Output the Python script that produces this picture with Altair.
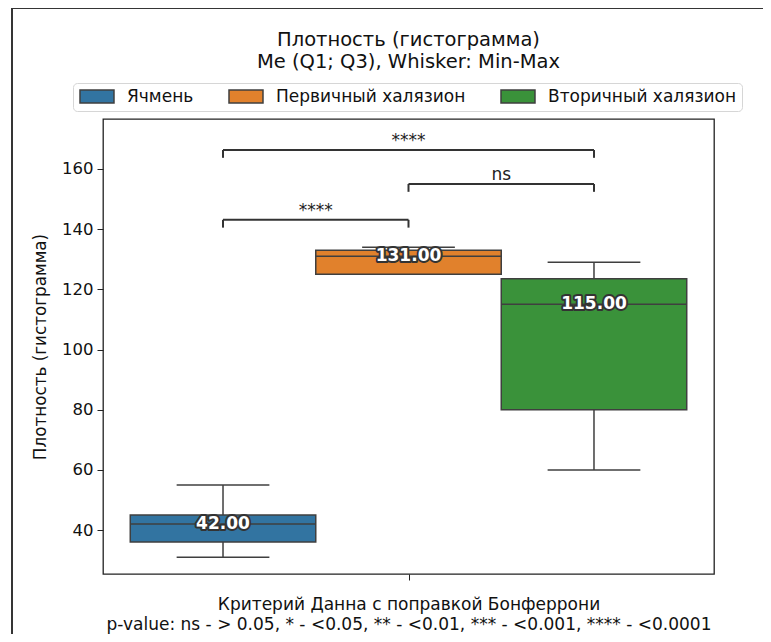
import altair as alt
import pandas as pd

# ---- data ----
groups = ["Ячмень", "Первичный халязион", "Вторичный халязион"]
colors = ["#3274a1", "#e1812c", "#3a923a"]
mins = [31, 125, 60]
q1s = [36, 125, 80]
medians = [42, 131, 115]
q3s = [45, 133, 123.5]
maxs = [55, 134, 129]

pair_from = [0, 1, 0]
pair_to = [1, 2, 2]
pair_y = [143.1, 155.0, 166.3]
pair_text = ["****", "ns", "****"]

title_lines = ["Плотность (гистограмма)", "Me (Q1; Q3), Whisker: Min-Max"]
y_title = "Плотность (гистограмма)"
x_title = ["Критерий Данна с поправкой Бонферрони",
           "p-value: ns - > 0.05, * - <0.05, ** - <0.01, *** - <0.001, **** - <0.0001"]
y_ticks = [40, 60, 80, 100, 120, 140, 160]

# ---- tables ----
half = 0.5
cap = 0.25
drop = 2.6
box = pd.DataFrame({
    "group": groups,
    "pos": [i - 1 for i in range(len(groups))],
    "mn": mins, "q1": q1s, "med": medians, "q3": q3s, "mx": maxs,
})
box["left"] = box["pos"] - half
box["right"] = box["pos"] + half
box["cl"] = box["pos"] - cap
box["cr"] = box["pos"] + cap
box["label"] = box["med"].map(lambda v: f"{v:.2f}")

br = pd.DataFrame({"a": [p - 1 for p in pair_from], "b": [p - 1 for p in pair_to],
                   "y": pair_y, "text": pair_text})
br["mid"] = (br["a"] + br["b"]) / 2
br["ylow"] = br["y"] - drop

FONT = "DejaVu Sans"
EDGE = "#3f3f3f"
FS = 17

xs = alt.Scale(domain=[-1.647, 1.647], nice=False, zero=False)
ys = alt.Scale(domain=[25.4, 176.6], nice=False, zero=False)

X = alt.X("pos:Q", scale=xs, axis=alt.Axis(values=[0], labels=False, tickSize=6, domain=False,
                                           grid=False, tickColor="#222", title=x_title,
                                           titleFontSize=FS, titleFontWeight="normal",
                                           titleFont=FONT, titleColor="#111", titlePadding=16,
                                           titleLineHeight=20))
Y = alt.Y("q1:Q", scale=ys, axis=alt.Axis(values=y_ticks, tickSize=6, domain=False, grid=False,
                                          labelFontSize=16.5, labelFont=FONT, labelColor="#111",
                                          tickColor="#222", labelPadding=4, title=y_title,
                                          titleFontSize=16.8, titleFontWeight="normal",
                                          titleFont=FONT, titleColor="#111", titlePadding=12))

base = alt.Chart(box)

whisk_lo = base.mark_rule(color=EDGE, strokeWidth=1.5).encode(x=X, y=alt.Y("mn:Q", scale=ys), y2="q1:Q")
whisk_hi = base.mark_rule(color=EDGE, strokeWidth=1.5).encode(x="pos:Q", y=alt.Y("q3:Q", scale=ys), y2="mx:Q")
cap_lo = base.mark_rule(color=EDGE, strokeWidth=1.5).encode(x=alt.X("cl:Q", scale=xs), x2="cr:Q", y=alt.Y("mn:Q", scale=ys))
cap_hi = base.mark_rule(color=EDGE, strokeWidth=1.5).encode(x=alt.X("cl:Q", scale=xs), x2="cr:Q", y=alt.Y("mx:Q", scale=ys))

bars = base.mark_bar(stroke=EDGE, strokeWidth=1.5, opacity=1).encode(
    x=alt.X("left:Q", scale=xs), x2="right:Q",
    y=Y, y2="q3:Q",
    color=alt.Color("group:N", scale=alt.Scale(domain=groups, range=colors), sort=groups,
                    legend=alt.Legend(
                        title=None, orient="none", legendX=-30, legendY=-36,
                        direction="horizontal", columns=3,
                        labelFont=FONT, labelFontSize=FS, labelColor="#111", labelLimit=400,
                        symbolType="M-1,-1H4.23V1H-1Z", symbolSize=169,
                        symbolStrokeColor=EDGE, symbolStrokeWidth=1.5, symbolOpacity=1,
                        labelOffset=32, columnPadding=32,
                        fillColor="white", strokeColor="#d6d6d6", cornerRadius=4,
                        padding=5)),
)
med = base.mark_rule(color=EDGE, strokeWidth=1.5).encode(x=alt.X("left:Q", scale=xs), x2="right:Q", y=alt.Y("med:Q", scale=ys))

lab_shadow = base.mark_text(font=FONT, fontSize=FS, fontWeight="bold", color="white",
                            stroke="#333333", strokeWidth=4, strokeJoin="round",
                            baseline="middle").encode(
    x=alt.X("pos:Q", scale=xs), y=alt.Y("med:Q", scale=ys), text="label:N")
lab = base.mark_text(font=FONT, fontSize=FS, fontWeight="bold", color="white",
                     baseline="middle").encode(
    x=alt.X("pos:Q", scale=xs), y=alt.Y("med:Q", scale=ys), text="label:N")

bb = alt.Chart(br)
br_h = bb.mark_rule(color="#333333", strokeWidth=2).encode(
    x=alt.X("a:Q", scale=xs), x2="b:Q", y=alt.Y("y:Q", scale=ys))
br_l = bb.mark_rule(color="#333333", strokeWidth=2).encode(
    x=alt.X("a:Q", scale=xs), y=alt.Y("ylow:Q", scale=ys), y2="y:Q")
br_r = bb.mark_rule(color="#333333", strokeWidth=2).encode(
    x=alt.X("b:Q", scale=xs), y=alt.Y("ylow:Q", scale=ys), y2="y:Q")
br_t = bb.mark_text(font=FONT, fontSize=FS, color="#222", baseline="alphabetic", dy=-4).encode(
    x=alt.X("mid:Q", scale=xs), y=alt.Y("y:Q", scale=ys), text="text:N")

frame_top = alt.Chart(box).mark_rule(color="#333333", strokeWidth=1.5).encode(
    x=alt.value(-91), x2=alt.value(668), y=alt.value(-111))
frame_left = alt.Chart(box).mark_rule(color="#333333", strokeWidth=1.5).encode(
    x=alt.value(-91), y=alt.value(-111), y2=alt.value(523))

chart = alt.layer(
    whisk_lo, whisk_hi, cap_lo, cap_hi, bars, med, lab_shadow, lab,
    br_h, br_l, br_r, br_t, frame_top, frame_left
).properties(
    width=611, height=455,
    autosize=alt.AutoSizeParams(type="none"),
    padding={"left": 95, "top": 111, "right": 49, "bottom": 60},
    background="white",
    title=alt.TitleParams(text=title_lines, font=FONT, fontSize=19.5, fontWeight="normal",
                          color="#111", anchor="middle", frame="group", offset=-65,
                          lineHeight=21.5),
).configure_view(stroke="#222", strokeWidth=1.3)

chart.save("out.html", embed_options={"renderer": "svg", "actions": False})
